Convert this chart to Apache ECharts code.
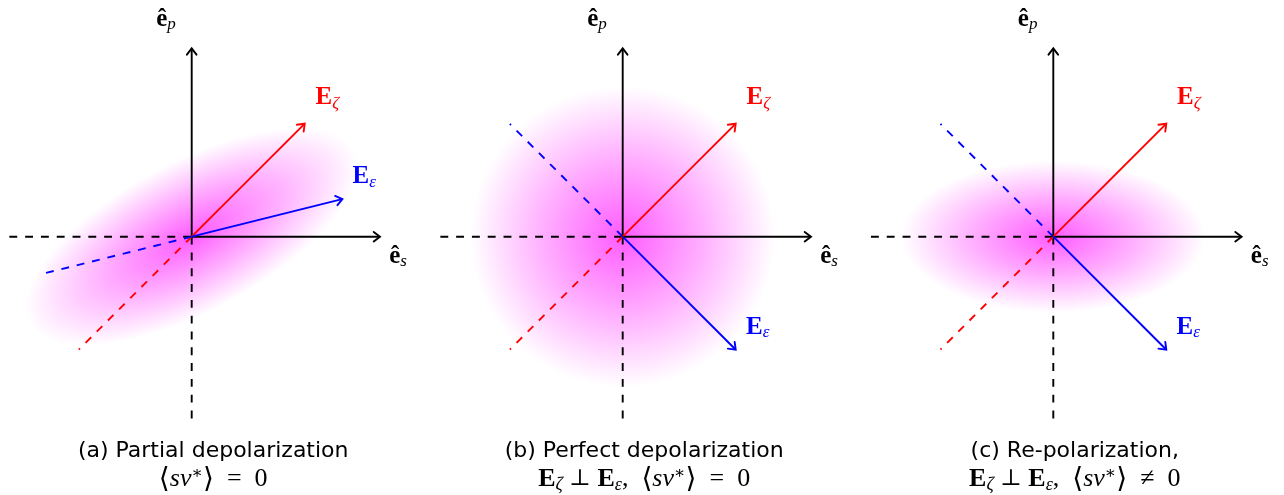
<!DOCTYPE html>
<html>
<head>
<meta charset="utf-8">
<script src="https://cdn.jsdelivr.net/npm/echarts@6/dist/echarts.min.js"></script>
<style>
html,body{margin:0;padding:0;background:#ffffff;}
#chart{width:1284px;height:495px;}
</style>
</head>
<body>
<div id="chart"></div>
<script>
// ---------------- data (diagram units) ----------------
const panelTags = ['(a)', '(b)', '(c)'];
const captionTitles = ['Partial depolarization', 'Perfect depolarization', 'Re-polarization,'];
const orthogonal = [false, true, true];
const svRelation = ['=', '=', '≠'];
const axisForward = 5;
const axisBackward = -4.85;
const zetaTips = [[3, 3], [3, 3], [3, 3]];
const epsTips = [[4, 1], [3, -3], [3, -3]];
const zetaTails = [[-3, -3], [-3, -3], [-3, -3]];
const epsTails = [[-3.9, -0.97], [-3, 3], [-3, 3]];
const blobRadii = [[4.9, 2.0], [4.05, 4.0], [4.05, 2.02]];
const blobAngles = [28, 0, 0];

// ---------------- layout ----------------
const ORIGIN_X = [191.7, 622.7, 1053.3];
const ORIGIN_Y = 236.7;
const UNIT = 37.6;
const HALF = 5;
const LW = 1.9;
const RED = '#ff0000', BLUE = '#0000ff', BLACK = '#000000';
const SERIF = '"Liberation Serif", "DejaVu Serif", serif';

function labelRich(color) {
  return {
    m: { font: 'bold 25px ' + SERIF, fill: color, lineHeight: 28 },
    s: { font: 'italic 17px ' + SERIF, fill: color, lineHeight: 13, verticalAlign: 'bottom' }
  };
}

function seg(g, values, opt) {
  return {
    type: 'custom', xAxisIndex: g, yAxisIndex: g, z: opt.z, silent: true,
    animation: false, clip: false,
    data: [values],
    renderItem: function (params, api) {
      const p0 = api.coord([api.value(0), api.value(1)]);
      const p1 = api.coord([api.value(2), api.value(3)]);
      const children = [{
        type: 'line',
        shape: { x1: p0[0], y1: p0[1], x2: p1[0], y2: p1[1] },
        style: { stroke: opt.color, lineWidth: LW, fill: null,
                 lineDash: opt.dashed ? [7.9, 7.9] : null, lineCap: 'butt' }
      }];
      if (opt.arrow) {
        const dx = p1[0] - p0[0], dy = p1[1] - p0[1];
        const L = Math.hypot(dx, dy), ux = dx / L, uy = dy / L, nx = -uy, ny = ux;
        const back = 6, half = 4.8;
        children.push({
          type: 'polyline',
          shape: { points: [
            [p1[0] - ux * back + nx * half, p1[1] - uy * back + ny * half],
            [p1[0] + ux * 0.3, p1[1] + uy * 0.3],
            [p1[0] - ux * back - nx * half, p1[1] - uy * back - ny * half]
          ] },
          style: { stroke: opt.color, lineWidth: LW, fill: null, lineJoin: 'miter', lineCap: 'round' }
        });
      }
      if (opt.label) {
        children.push({
          type: 'text', x: p1[0] + opt.label.dx, y: p1[1] + opt.label.dy,
          style: { text: opt.label.text, rich: labelRich(opt.color), font: 'bold 25px ' + SERIF,
                   fill: opt.color, align: 'left', verticalAlign: 'middle' }
        });
      }
      return { type: 'group', children: children };
    }
  };
}

function blob(g) {
  return {
    type: 'custom', xAxisIndex: g, yAxisIndex: g, z: 1, silent: true,
    animation: false, clip: false,
    data: [[0, 0, blobRadii[g][0], blobRadii[g][1], blobAngles[g]]],
    renderItem: function (params, api) {
      const c = api.coord([api.value(0), api.value(1)]);
      const sz = api.size([api.value(2), api.value(3)]);
      const R = 100;
      return {
        type: 'circle', x: c[0], y: c[1],
        scaleX: sz[0] / R, scaleY: sz[1] / R,
        rotation: api.value(4) * Math.PI / 180,
        shape: { cx: 0, cy: 0, r: R },
        style: {
          fill: new echarts.graphic.RadialGradient(0.5, 0.5, 0.5, [
            { offset: 0, color: 'rgba(255,0,255,0.64)' },
            { offset: 0.5, color: 'rgba(255,0,255,0.33)' },
            { offset: 1, color: 'rgba(255,0,255,0)' }
          ]),
          stroke: null
        }
      };
    }
  };
}

const grids = [], xAxes = [], yAxes = [], series = [];
panelTags.forEach(function (tag, i) {
  grids.push({ left: ORIGIN_X[i] - HALF * UNIT, top: ORIGIN_Y - HALF * UNIT,
               width: 2 * HALF * UNIT, height: 2 * HALF * UNIT, show: false });
  xAxes.push({ type: 'value', gridIndex: i, min: -HALF, max: HALF, show: false });
  yAxes.push({ type: 'value', gridIndex: i, min: -HALF, max: HALF, show: false });

  series.push(blob(i));
  series.push(seg(i, [axisBackward, 0, 0, 0], { color: BLACK, dashed: true, z: 2 }));
  series.push(seg(i, [0, 0, 0, axisBackward], { color: BLACK, dashed: true, z: 2 }));
  series.push(seg(i, [0, 0].concat(zetaTails[i]), { color: RED, dashed: true, z: 3 }));
  series.push(seg(i, [0, 0].concat(epsTails[i]), { color: BLUE, dashed: true, z: 3 }));
  series.push(seg(i, [0, 0, axisForward, 0], { color: BLACK, arrow: true, z: 4,
    label: { text: '{m|ê}{s|s}', dx: 9.5, dy: 19.5 } }));
  series.push(seg(i, [0, 0, 0, axisForward], { color: BLACK, arrow: true, z: 4,
    label: { text: '{m|ê}{s|p}', dx: -35.5, dy: -29.2 } }));
  series.push(seg(i, [0, 0].concat(zetaTips[i]), { color: RED, arrow: true, z: 5,
    label: { text: '{m|E}{s|ζ}', dx: 11, dy: -26 } }));
  series.push(seg(i, [0, 0].concat(epsTips[i]), { color: BLUE, arrow: true, z: 5,
    label: { text: '{m|E}{s|ε}', dx: 10.5, dy: -22.3 } }));
});

const mathRich = {
  b: { font: 'bold 26px ' + SERIF, fill: BLACK, lineHeight: 29 },
  sub: { font: 'italic 18px ' + SERIF, fill: BLACK, lineHeight: 13, verticalAlign: 'bottom' },
  rm: { font: '26px ' + SERIF, fill: BLACK, lineHeight: 29 },
  it: { font: 'italic 26px ' + SERIF, fill: BLACK, lineHeight: 29 },
  sym: { font: '23px "DejaVu Serif", "DejaVu Sans", serif', fill: BLACK, lineHeight: 29 },
  ang: { font: '28px "DejaVu Serif", "DejaVu Sans", serif', fill: BLACK, lineHeight: 29 },
  sup: { font: '17px "DejaVu Serif", "DejaVu Sans", serif', fill: BLACK, lineHeight: 13, verticalAlign: 'top' }
};

const graphic = [];
panelTags.forEach(function (tag, i) {
  const cx = ORIGIN_X[i] + 21.5;
  let line2 = '';
  if (orthogonal[i]) line2 += '{b|E}{sub|ζ}{rm| }{sym|⊥}{rm| }{b|E}{sub|ε}{rm|,  }';
  line2 += '{ang|⟨}{it|sv}{sup|∗}{ang|⟩}{rm|  ' + svRelation[i] + '  0}';
  graphic.push({ type: 'text', x: cx, y: 451, silent: true,
    style: { text: tag + ' ' + captionTitles[i], font: '22px "DejaVu Sans"', fill: BLACK,
             align: 'center', verticalAlign: 'middle' } });
  graphic.push({ type: 'text', x: cx, y: 479.5, silent: true,
    style: { text: line2, rich: mathRich, font: '26px ' + SERIF, fill: BLACK,
             align: 'center', verticalAlign: 'middle' } });
});

const chart = echarts.init(document.getElementById('chart'), null, { renderer: 'canvas' });
chart.setOption({
  backgroundColor: '#ffffff',
  animation: false,
  grid: grids, xAxis: xAxes, yAxis: yAxes,
  series: series,
  graphic: graphic
});
</script>
</body>
</html>
